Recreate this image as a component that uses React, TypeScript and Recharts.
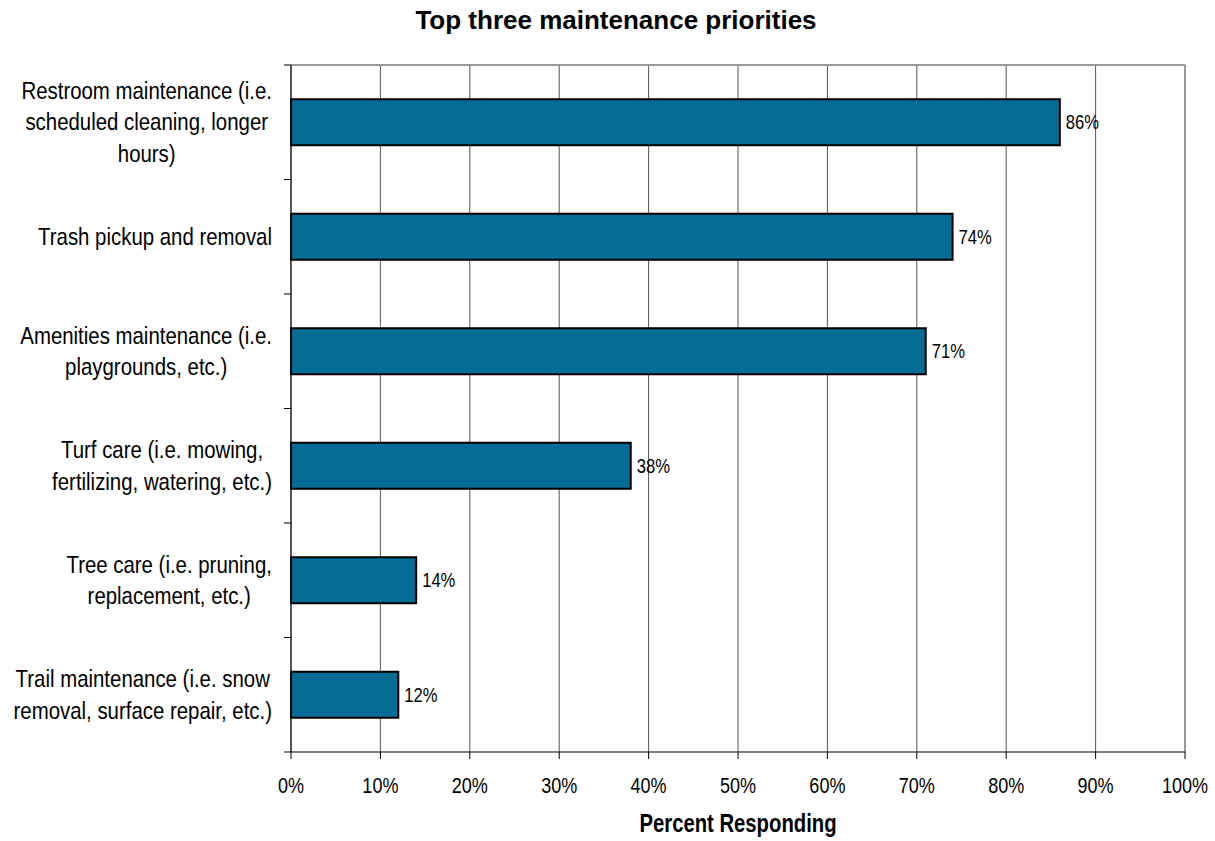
import { BarChart, Bar, XAxis, YAxis, CartesianGrid, LabelList, ReferenceLine } from 'recharts'

const categories = [
  'Restroom maintenance (i.e.|scheduled cleaning, longer|hours)',
  'Trash pickup and removal',
  'Amenities maintenance (i.e.|playgrounds, etc.)',
  'Turf care (i.e. mowing,|fertilizing, watering, etc.)',
  'Tree care (i.e. pruning,|replacement, etc.)',
  'Trail maintenance (i.e. snow|removal, surface repair, etc.)',
]
const percents = [86, 74, 71, 38, 14, 12]
const xTicks = [0, 10, 20, 30, 40, 50, 60, 70, 80, 90, 100]

const FONT = '"Liberation Sans", Arial, sans-serif'
const W = 1215
const H = 841
const TOP = 65
const BOTTOM = 752
const LEFT = 291
const RIGHT = 1185
const BAND = (BOTTOM - TOP) / categories.length

const data = categories.map((name, i) => ({ name, value: percents[i] }))

let ctx: CanvasRenderingContext2D | null = null
function measure(s: string, size: number, weight = 'normal') {
  if (!ctx) ctx = document.createElement('canvas').getContext('2d')
  if (!ctx) return s.length * size * 0.5
  ctx.font = `${weight} ${size}px "Liberation Sans", Arial, sans-serif`
  return ctx.measureText(s).width
}

// narrow text: regular font squeezed horizontally
function NText({ x, y, children, size, sx, anchor = 'middle', weight = 'normal' }: any) {
  return (
    <text
      transform={`translate(${x},${y}) scale(${sx},1)`}
      textAnchor={anchor}
      fontFamily={FONT}
      fontSize={size}
      fontWeight={weight}
      fill="#000"
    >
      {children}
    </text>
  )
}

const LABEL_SIZE = 24
const LABEL_SX = 0.85

function CategoryTick(props: any) {
  const { y, payload, index } = props
  const lines = String(payload.value).split('|')
  const lh = 31.5
  const maxW = Math.max(...lines.map((l) => measure(l, LABEL_SIZE))) * LABEL_SX
  const cx = 272 - maxW / 2
  const base = y + 8 - ((lines.length - 1) * lh) / 2
  return (
    <g>
      <line x1={LEFT - 7} x2={LEFT} y1={y - BAND / 2} y2={y - BAND / 2} stroke="#000" />
      {index === categories.length - 1 && (
        <line x1={LEFT - 7} x2={LEFT} y1={y + BAND / 2} y2={y + BAND / 2} stroke="#000" />
      )}
      {lines.map((l, i) => (
        <NText key={i} x={cx} y={base + i * lh} size={LABEL_SIZE} sx={LABEL_SX}>
          {l}
        </NText>
      ))}
    </g>
  )
}

function PercentTick(props: any) {
  const { x, payload } = props
  return (
    <NText x={x} y={BOTTOM + 41} size={22} sx={0.82}>
      {`${payload.value}%`}
    </NText>
  )
}

function BarValue(props: any) {
  const { x, y, width, height, value } = props
  return (
    <NText x={x + width + 6} y={y + height / 2 + 7} size={20} sx={0.83} anchor="start">
      {`${value}%`}
    </NText>
  )
}

export default function App() {
  return (
    <div style={{ position: 'absolute', left: 0, top: 0, width: W, height: H, background: '#fff' }}>
      <BarChart
        width={W}
        height={H}
        data={data}
        layout="vertical"
        margin={{ top: TOP, right: W - RIGHT, bottom: H - BOTTOM - 30, left: 0 }}
        barCategoryGap="30%"
      >
        <CartesianGrid horizontal={false} stroke="#555" />
        <CartesianGrid vertical={false} horizontalPoints={[TOP]} stroke="#999" strokeWidth={2} />
        <XAxis
          type="number"
          domain={[0, 100]}
          ticks={xTicks}
          stroke="#000"
          tickSize={7}
          tick={<PercentTick />}
        />
        <YAxis
          type="category"
          dataKey="name"
          width={LEFT}
          stroke="#000"
          tickLine={false}
          tick={<CategoryTick />}
          interval={0}
        />
        <ReferenceLine x={100} stroke="#999" strokeWidth={2} />
        <Bar dataKey="value" fill="#036B94" stroke="#000" strokeWidth={2} isAnimationActive={false}>
          <LabelList dataKey="value" content={<BarValue />} />
        </Bar>
        <NText x={616} y={29} size={26} sx={1} weight="bold">
          Top three maintenance priorities
        </NText>
        <NText x={(LEFT + RIGHT) / 2} y={832} size={26} sx={0.78} weight="bold">
          Percent Responding
        </NText>
      </BarChart>
    </div>
  )
}
